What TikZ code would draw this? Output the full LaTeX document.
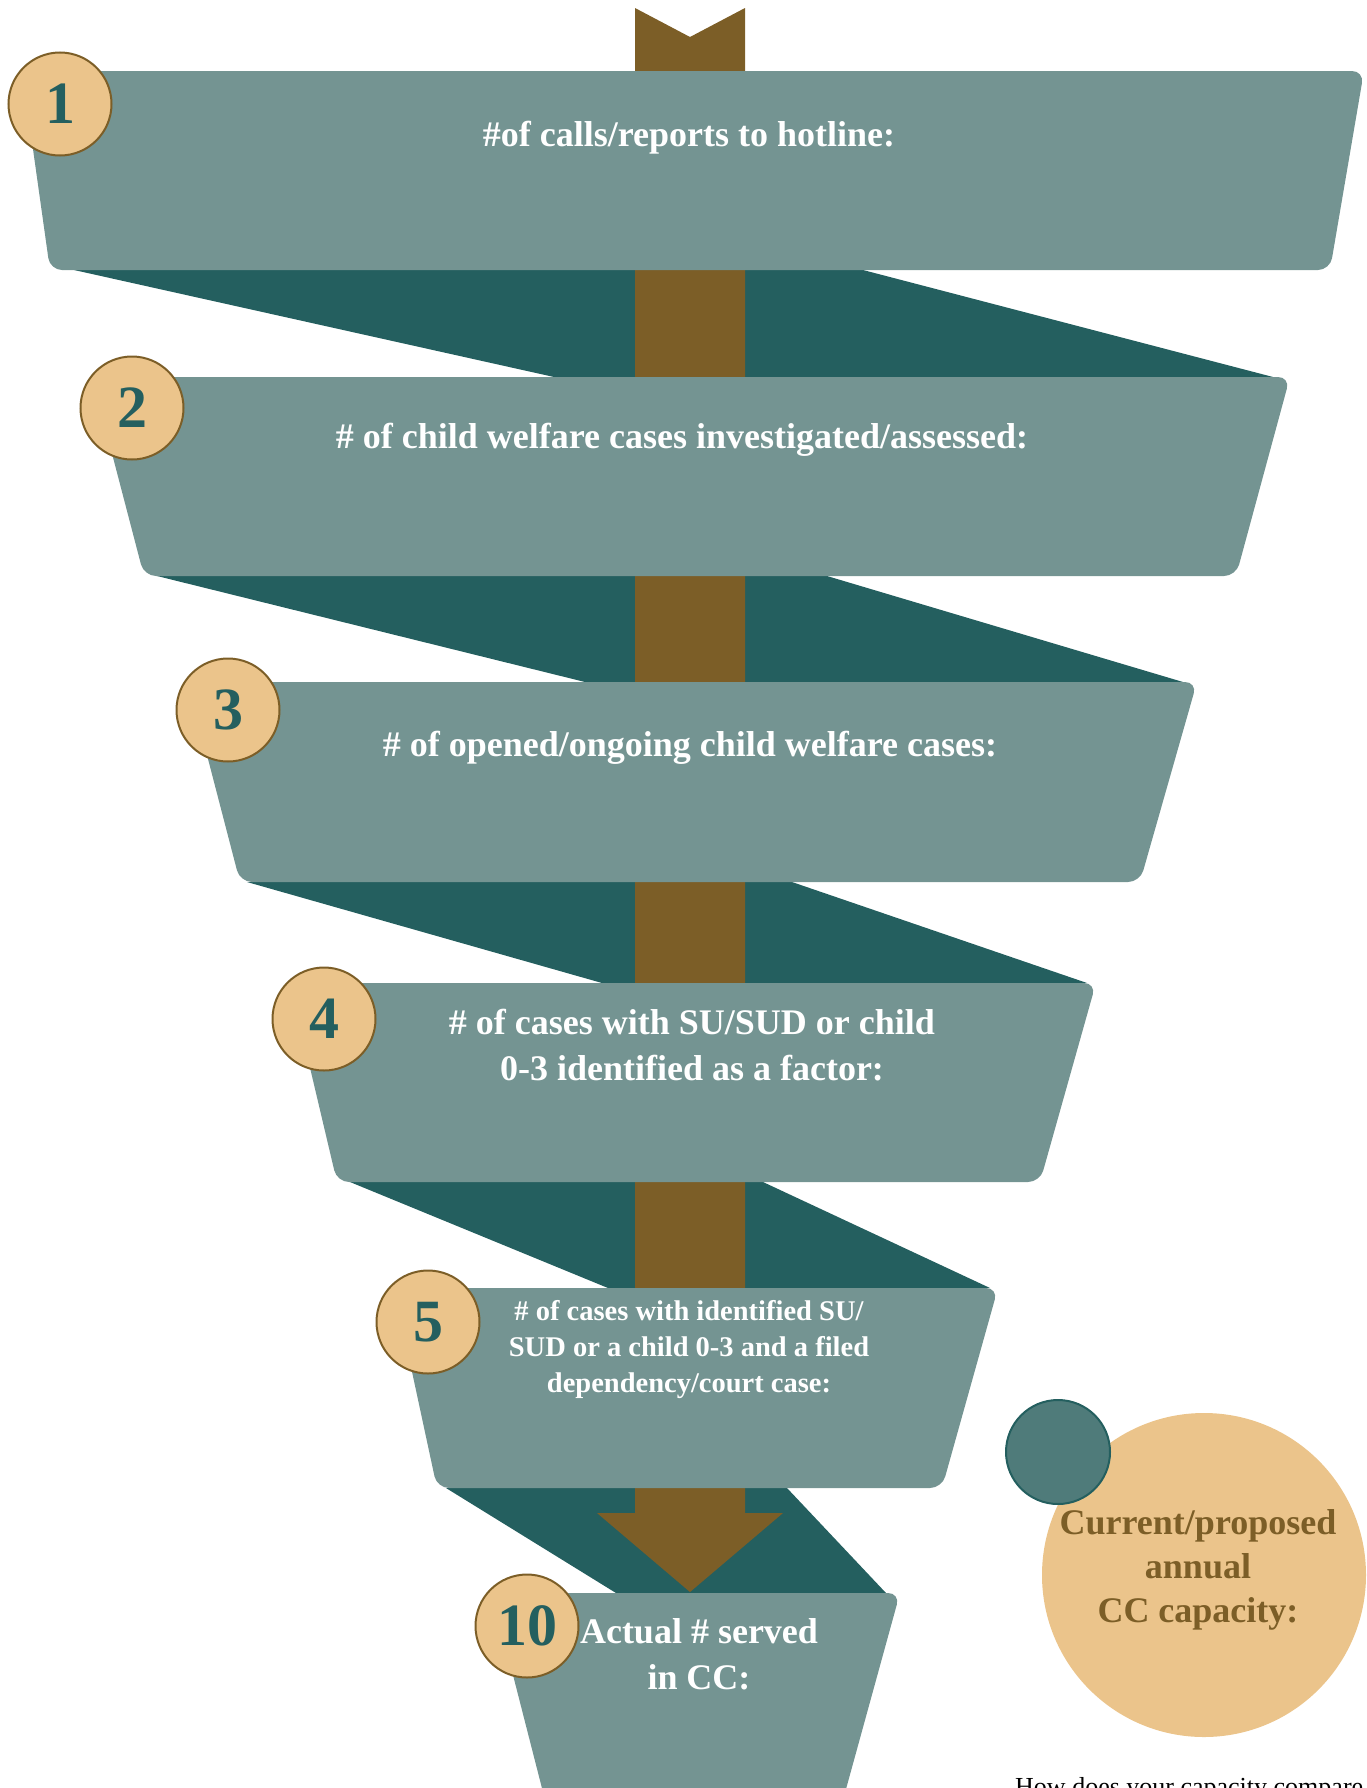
\documentclass[tikz,border=0pt]{standalone}
\usepackage{fontspec}
\setmainfont{Liberation Serif}
\definecolor{panelc}{HTML}{749492}
\definecolor{ribbonc}{HTML}{245F5F}
\definecolor{brownc}{HTML}{7C5E27}
\definecolor{tanc}{HTML}{EBC48B}
\definecolor{smallc}{HTML}{4F7B7A}
\tikzset{
  panel/.style={fill=panelc, rounded corners=12pt},
  ribbon/.style={fill=ribbonc},
  numcirc/.style={circle, fill=tanc, draw=brownc, line width=2pt, minimum size=103pt, inner sep=0pt},
  numtxt/.style={text=ribbonc, font=\fontsize{60}{60}\selectfont\bfseries, inner sep=0pt},
  lbl/.style={text=white, font=\fontsize{36}{46}\selectfont\bfseries, align=center, inner sep=0pt},
  lblsmall/.style={text=white, font=\fontsize{28.5}{36}\selectfont\bfseries, align=center, inner sep=0pt},
  cclbl/.style={text=brownc, font=\fontsize{36}{44}\selectfont\bfseries, align=center, inner sep=0pt},
}
\begin{document}
\begin{tikzpicture}[x=1pt,y=-1pt]
\useasboundingbox (0,0) rectangle (1367,1788);
\clip (0,0) rectangle (1367,1788);
% ribbons (back folds)
\fill[ribbon] (74,270) -- (863,270) -- (1273,377) -- (554,377) -- cycle;
\fill[ribbon] (157,576) -- (827,576) -- (1183,682) -- (585,682) -- cycle;
\fill[ribbon] (247,882) -- (792,882) -- (1087,983) -- (602,983) -- cycle;
\fill[ribbon] (350,1182) -- (763,1182) -- (990,1288) -- (608,1288) -- cycle;
\fill[ribbon] (446,1488) -- (787,1488) -- (886,1593) -- (616,1593) -- cycle;
% brown arrow
\fill[brownc] (635,8) -- (690,37) -- (745,8) -- (745,1513) -- (783,1513) -- (690,1592) -- (597,1513) -- (635,1513) -- cycle;
% panels
\fill[panel] (22,71) -- (1364,71) -- (1330,270) -- (50,270) -- cycle;
\fill[panel] (92,377) -- (1290,377) -- (1236,576) -- (144,576) -- cycle;
\fill[panel] (188,682) -- (1197,682) -- (1140,882) -- (240,882) -- cycle;
\fill[panel] (290,983) -- (1096,983) -- (1040,1182) -- (337,1182) -- cycle;
\fill[panel] (394,1288) -- (998,1288) -- (942,1488) -- (437,1488) -- cycle;
\fill[panel] (492,1593) -- (900,1593) -- (843,1800) -- (545,1800) -- cycle;
% number circles
\node[numcirc] (c1) at (60,104) {};
\node[numtxt] (n1) at (c1.center) {1};
\node[numcirc] (c2) at (132,408) {};
\node[numtxt] (n2) at (c2.center) {2};
\node[numcirc] (c3) at (228,710) {};
\node[numtxt] (n3) at (c3.center) {3};
\node[numcirc] (c4) at (324,1019) {};
\node[numtxt] (n4) at (c4.center) {4};
\node[numcirc] (c5) at (428,1322) {};
\node[numtxt] (n5) at (c5.center) {5};
\node[numcirc] (c10) at (527,1626) {};
\node[numtxt] (n10) at (c10.center) {10};
% labels
\node[lbl, anchor=base] (t1) at (689,146) {\#of calls/reports to hotline:};
\node[lbl, anchor=base] (t2) at (682,448) {\# of child welfare cases investigated/assessed:};
\node[lbl, anchor=base] (t3) at (690,756) {\# of opened/ongoing child welfare cases:};
\node[lbl, anchor=base] (t4) at (692,1080) {\# of cases with SU/SUD or child\\0-3 identified as a factor:};
\node[lblsmall, anchor=base] (t5) at (689,1392) {\# of cases with identified SU/\\SUD or a child 0-3 and a filed\\dependency/court case:};
\node[lbl, anchor=base] (t10) at (699,1689) {Actual \# served\\in CC:};
% capacity circles
\node[circle, fill=tanc, minimum size=324pt, inner sep=0pt] (big) at (1204,1575) {};
\node[circle, fill=smallc, draw=ribbonc, line width=2pt, minimum size=104pt, inner sep=0pt] (small) at (1058,1452) {};
\node[cclbl, anchor=base] (cc) at (1198,1622) {Current/proposed\\annual\\CC capacity:};
% bottom text
\node[anchor=base west, inner sep=0pt, font=\fontsize{26}{30}\selectfont] (q) at (1015,1795) {How does your capacity compare};
\end{tikzpicture}
\end{document}
